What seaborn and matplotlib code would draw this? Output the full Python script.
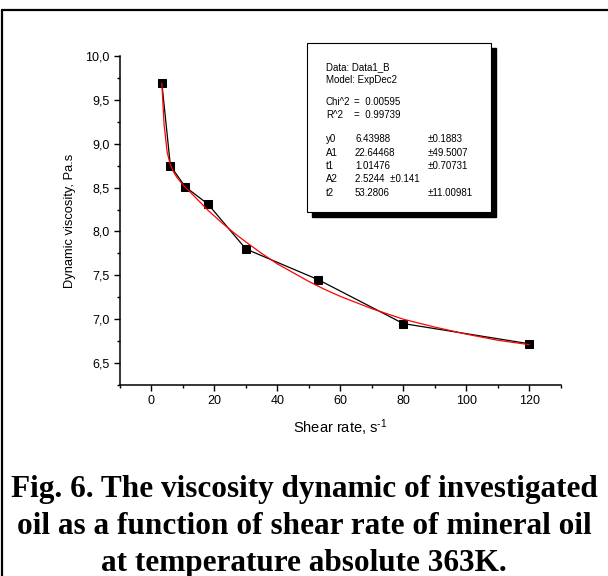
import matplotlib
matplotlib.use("Agg")
import matplotlib.pyplot as plt
import seaborn as sns
import numpy as np
from matplotlib.ticker import MultipleLocator, FixedLocator, FixedFormatter
from matplotlib.patches import Rectangle
from matplotlib.lines import Line2D

# ---- data ----
shear_rate = [3.3, 6, 10.7, 18, 30, 53, 80, 120]
viscosity = [9.69, 8.75, 8.51, 8.31, 7.80, 7.45, 6.95, 6.72]

fit_x = [3.3, 4, 5, 6, 7, 8, 10, 12, 15, 18, 22, 26, 30, 35, 40, 45, 50,
         55, 60, 70, 80, 90, 100, 110, 120]
fit_y = [9.69, 9.22, 8.90, 8.76, 8.68, 8.62, 8.53, 8.46, 8.35, 8.24, 8.11,
         7.99, 7.88, 7.75, 7.63, 7.53, 7.43, 7.34, 7.26, 7.12, 7.00, 6.91,
         6.83, 6.76, 6.71]

x_ticks = [0, 20, 40, 60, 80, 100, 120]
x_tick_labels = ["0", "20", "40", "60", "80", "100", "120"]
y_ticks = [6.5, 7.0, 7.5, 8.0, 8.5, 9.0, 9.5, 10.0]
y_tick_labels = ["6,5", "7,0", "7,5", "8,0", "8,5", "9,0", "9,5", "10,0"]

box_header = ["Data: Data1_B", "Model: ExpDec2"]
stat_names = ["Chi^2", "R^2"]
stat_values = ["=  0.00595", "=  0.99739"]
param_names = ["y0", "A1", "t1", "A2", "t2"]
param_values = ["6.43988", "22.64468", "1.01476", "2.5244  \u00b10.141", "53.2806"]
param_errors = ["\u00b10.1883", "\u00b149.5007", "\u00b10.70731", "", "\u00b111.00981"]

caption_lines = ["Fig. 6. The viscosity dynamic of investigated",
                 "oil as a function of shear rate of mineral oil",
                 "at temperature absolute 363K."]

# ---- figure ----
sns.set_theme(style="white")
plt.rcParams["font.family"] = ["Liberation Sans", "DejaVu Sans"]
plt.rcParams["mathtext.fontset"] = "custom"
plt.rcParams["mathtext.rm"] = "Liberation Sans"
plt.rcParams["mathtext.it"] = "Liberation Sans:italic"
plt.rcParams["mathtext.bf"] = "Liberation Sans:bold"

W, H = 608, 576
fig = plt.figure(figsize=(W / 100, H / 100), dpi=100)
fig.patch.set_facecolor("white")

def fx(px):
    return px / W

def fy(py):
    return 1 - py / H

ax = fig.add_axes([fx(120), fy(385), fx(560.7) - fx(120), fy(56) - fy(385)])
ax.set_facecolor("white")

sns.lineplot(x=shear_rate, y=viscosity, ax=ax, color="black", lw=0.9,
             marker="s", markersize=5.2, markeredgecolor="black",
             markerfacecolor="black", sort=False, zorder=2)
sns.lineplot(x=fit_x, y=fit_y, ax=ax, color="red", lw=0.9, sort=False, zorder=3)

ax.set_xlim(-10, 130)
ax.set_ylim(6.25, 10.0)

for s in ["top", "right"]:
    ax.spines[s].set_visible(False)
for s in ["left", "bottom"]:
    ax.spines[s].set_color("black")
    ax.spines[s].set_linewidth(1.1)

ax.xaxis.set_major_locator(FixedLocator(x_ticks))
ax.xaxis.set_major_formatter(FixedFormatter(x_tick_labels))
ax.xaxis.set_minor_locator(MultipleLocator(10))
ax.yaxis.set_major_locator(FixedLocator(y_ticks))
ax.yaxis.set_major_formatter(FixedFormatter(y_tick_labels))
ax.yaxis.set_minor_locator(MultipleLocator(0.25))

ax.tick_params(which="major", direction="out", length=4.5, width=1.0,
               color="black", labelsize=9, labelcolor="black",
               bottom=True, left=True, pad=3)
ax.tick_params(which="minor", direction="out", length=2.5, width=1.0,
               color="black", bottom=True, left=True)

ax.set_xlabel("Shear rate, s$^{\\text{-1}}$", fontsize=10.5, color="black", labelpad=7)
ax.set_ylabel("Dynamic viscosity, Pa.s", fontsize=9.3, color="black", labelpad=6.5)

# ---- parameter box with shadow ----
bx0, by0, bx1, by1 = 307, 43, 491, 212
shadow = Rectangle((fx(bx0 + 5), fy(by1 + 5)), fx(bx1) - fx(bx0), fy(by0) - fy(by1),
                   transform=fig.transFigure, facecolor="black", edgecolor="black",
                   zorder=5)
box = Rectangle((fx(bx0), fy(by1)), fx(bx1) - fx(bx0), fy(by0) - fy(by1),
                transform=fig.transFigure, facecolor="white", edgecolor="black",
                lw=0.8, zorder=6)
fig.add_artist(shadow)
fig.add_artist(box)

fs_box = 7.0
col1, col2, col3 = 326, 355, 428
tkw = dict(fontsize=fs_box, color="black", va="center", ha="left", zorder=7,
           transform=fig.transFigure)
fig.text(fx(col1), fy(67), box_header[0], **tkw)
fig.text(fx(col1), fy(80), box_header[1], **tkw)
for i, (n, v) in enumerate(zip(stat_names, stat_values)):
    yy = 102 + i * 13.5
    fig.text(fx(col1), fy(yy), n, **tkw)
    fig.text(fx(col2 - 1), fy(yy), v, **tkw)
for i, (n, v, e) in enumerate(zip(param_names, param_values, param_errors)):
    yy = 139 + i * 13.5
    fig.text(fx(col1), fy(yy), n, **tkw)
    fig.text(fx(col2), fy(yy), v, **tkw)
    if e:
        fig.text(fx(col3), fy(yy), e, **tkw)

# ---- caption ----
for i, line in enumerate(caption_lines):
    fig.text(0.5, fy(489 + i * 37), line, ha="center", va="center",
             fontsize=22.5, fontweight="bold", color="black",
             family=["Liberation Serif", "DejaVu Serif"])

# ---- outer frame (top and left) ----
fig.add_artist(Line2D([fx(1.5), 1.0], [fy(10), fy(10)], transform=fig.transFigure,
                      color="black", lw=1.6))
fig.add_artist(Line2D([fx(1.5), fx(1.5)], [fy(10), 0.0], transform=fig.transFigure,
                      color="black", lw=1.6))

fig.savefig("out.png", dpi=100, facecolor="white")
